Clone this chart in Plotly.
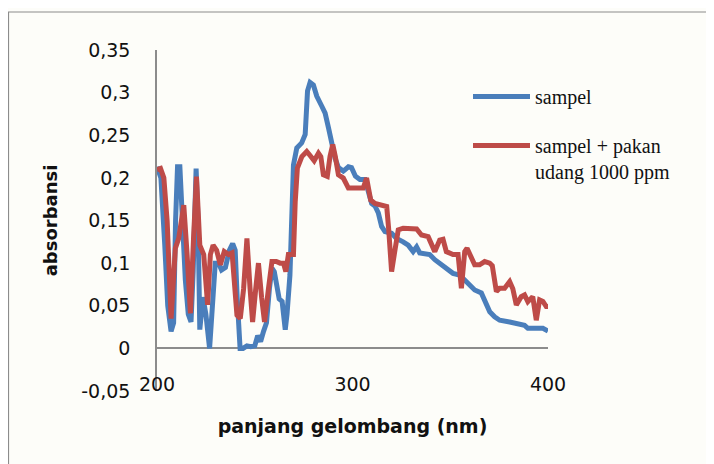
import plotly.graph_objects as go

# ---- data ----
sampel_nm = [200, 202, 204, 205.5, 207.2, 208.5, 209.5, 210.5, 211.7, 213, 214.5, 216, 217.4, 218.5,
             220, 221, 221.9, 223.5, 225, 226.9, 228.5, 229.8, 231.5, 233, 235, 237, 238.7, 240, 241,
             242.5, 244, 246, 248, 250, 251.5, 253, 254.5, 256, 257.5, 258.8, 260, 261.5, 262.5, 264,
             265.6, 266.5, 268, 269.8, 271.5, 274, 275.8, 277, 278.3, 280, 281.7, 284.3, 286, 287.7,
             289.4, 291.1, 292.8, 295.3, 297.9, 299.5, 301.5, 303.8, 306.4, 308, 309.8, 311.5, 313.2,
             314.9, 316.6, 320, 322.5, 325.9, 328.5, 331, 332.8, 334.4, 337, 339.5, 342.1, 344.6, 348,
             351.4, 354.8, 357.4, 360, 362.5, 365.9, 368.5, 370.2, 372.7, 375.3, 380.4, 385.5, 388,
             389.7, 394, 397.4, 400]
sampel_abs = [0.213, 0.200, 0.120, 0.050, 0.020, 0.030, 0.150, 0.213, 0.213, 0.150, 0.080, 0.040, 0.031, 0.090,
              0.211, 0.150, 0.022, 0.060, 0.040, 0.000, 0.050, 0.100, 0.100, 0.092, 0.095, 0.115, 0.123, 0.115, 0.060,
              0.000, 0.000, 0.003, 0.002, 0.003, 0.015, 0.008, 0.020, 0.030, 0.070, 0.094, 0.090, 0.070, 0.058, 0.055,
              0.022, 0.040, 0.086, 0.215, 0.235, 0.241, 0.251, 0.302, 0.312, 0.309, 0.296, 0.284, 0.276, 0.259,
              0.239, 0.223, 0.212, 0.208, 0.213, 0.212, 0.202, 0.198, 0.198, 0.182, 0.170, 0.167, 0.159,
              0.143, 0.137, 0.135, 0.129, 0.125, 0.121, 0.1135, 0.119, 0.112, 0.111, 0.110, 0.104, 0.100, 0.094,
              0.088, 0.086, 0.080, 0.074, 0.0685, 0.065, 0.053, 0.043, 0.037, 0.033, 0.031, 0.029, 0.027,
              0.0235, 0.0235, 0.0235, 0.0203]

pakan_nm = [200, 201.8, 203.5, 205.2, 207.2, 209.4, 211.1, 213.7, 215.4, 217.1, 218.7, 220.2, 221.9, 223.9,
            225.9, 227.3, 228.7, 230.5, 232.4, 234.4, 236.6, 238.4, 240.9, 242.6, 244.3, 246, 247.6, 248.9,
            250.5, 251.9, 253.5, 255, 257, 258.8, 261, 263, 264.7, 265.9, 267.2, 269.8, 270.7, 271.8, 274.1,
            276.6, 278.4, 280.4, 282.6, 283.8, 285.1, 287.1, 288.5, 289.9, 291.2, 292.8, 295.3, 297.9, 301,
            305.5, 307.2, 309.3, 311.5, 314, 317.5, 318.5, 320, 321.7, 323.4, 325.9, 329.3, 332.8, 335.3,
            338.7, 342.1, 344.6, 346.3, 348, 351.4, 354, 355.7, 357.4, 358.6, 360.8, 362.5, 365, 367.6,
            370.2, 371.5, 373.6, 375.3, 377.8, 380.4, 382, 383.8, 386.3, 388, 389.7, 392.2, 394, 395.7,
            397.4, 399.1, 400]
pakan_abs = [0.2095, 0.211, 0.200, 0.149, 0.035, 0.1175, 0.129, 0.168, 0.110, 0.041, 0.130, 0.2016, 0.121, 0.110,
             0.051, 0.110, 0.121, 0.115, 0.098, 0.1135, 0.110, 0.112, 0.039, 0.035, 0.070, 0.129, 0.070, 0.031,
             0.070, 0.100, 0.060, 0.031, 0.070, 0.102, 0.102, 0.100, 0.100, 0.090, 0.110, 0.110, 0.172, 0.2115, 0.225,
             0.231, 0.226, 0.220, 0.229, 0.225, 0.2036, 0.2016, 0.225, 0.239, 0.225, 0.2036, 0.1998, 0.188, 0.188,
             0.188, 0.1998, 0.174, 0.170, 0.169, 0.1664, 0.140, 0.090, 0.115, 0.139, 0.141, 0.141, 0.140, 0.133,
             0.131, 0.1135, 0.127, 0.128, 0.1135, 0.110, 0.110, 0.0705, 0.1135, 0.1175, 0.1058, 0.098, 0.098, 0.1018,
             0.100, 0.097, 0.0666, 0.0705, 0.0705, 0.0783, 0.070, 0.051, 0.0607, 0.0627, 0.0548, 0.0607, 0.033, 0.0568,
             0.055, 0.049, 0.049]

y_tickvals = [-0.05, 0, 0.05, 0.1, 0.15, 0.2, 0.25, 0.3, 0.35]
y_ticktext = ["-0,05", "0", "0,05", "0,1", "0,15", "0,2", "0,25", "0,3", "0,35"]
x_tickvals = [200, 300, 400]
x_ticktext = ["200", "300", "400"]

series_names = ["sampel", "sampel + pakan<br>udang 1000 ppm"]
series_colors = ["#4A7EBB", "#BE4B48"]

# ---- layout geometry (pixels) ----
OFF = 8  # default page body margin
W, H = 714 - OFF, 464 - OFF
ML, MR, MT, MB = 157 - OFF, 166, 50 - OFF, 73
PW, PH = W - ML - MR, H - MT - MB


def px_to_paper_x(px):  # px in page coordinates
    return (px - OFF - ML) / PW


def px_to_paper_y(py):
    return 1 - (py - OFF - MT) / PH


fig = go.Figure()
for i, (xs, ys) in enumerate([(sampel_nm, sampel_abs), (pakan_nm, pakan_abs)]):
    fig.add_trace(go.Scatter(
        x=xs, y=ys, mode="lines", name=series_names[i],
        legendgroup="g%d" % i,
        line=dict(color=series_colors[i], width=5),
    ))

fig.update_layout(
    width=W, height=H,
    margin=dict(l=ML, r=MR, t=MT, b=MB, autoexpand=False),
    paper_bgcolor="#FDFDF9",
    plot_bgcolor="rgba(0,0,0,0)",
    showlegend=True,
    legend=dict(
        x=px_to_paper_x(468), y=px_to_paper_y(77), xanchor="left", yanchor="top",
        bgcolor="rgba(0,0,0,0)", borderwidth=0,
        font=dict(family="Liberation Serif", size=20, color="#111111"),
        itemwidth=57, valign="top", tracegroupgap=20,
        traceorder="grouped",
    ),
    xaxis=dict(
        range=[200, 400], tickvals=x_tickvals, ticktext=x_ticktext,
        showgrid=False, zeroline=False, showline=False, ticks="",
        ticklabelposition="inside", ticklabeloverflow="allow",
        ticklabelstandoff=-7,
        tickfont=dict(family="DejaVu Sans", size=19, color="#111111"),
        title=dict(text="<b>panjang gelombang (nm)</b>", standoff=25,
                   font=dict(family="DejaVu Sans", size=19, color="#111111")),
    ),
    yaxis=dict(
        range=[-0.05, 0.35], tickvals=y_tickvals, ticktext=y_ticktext,
        showgrid=False, zeroline=True, zerolinecolor="#8C8C8C", zerolinewidth=1.5,
        showline=True, linecolor="#8C8C8C", linewidth=1.5, ticks="",
        ticklabelstandoff=21,
        tickfont=dict(family="DejaVu Sans", size=19, color="#111111"),
        title=dict(text="<b>absorbansi</b>", standoff=19,
                   font=dict(family="DejaVu Sans", size=18, color="#111111")),
    ),
    shapes=[dict(
        type="rect", xref="paper", yref="paper",
        x0=px_to_paper_x(8.5), x1=px_to_paper_x(714 + 20),
        y0=px_to_paper_y(464 + 20), y1=px_to_paper_y(12),
        line=dict(color="#8C8C8C", width=1.2), fillcolor="rgba(0,0,0,0)",
        layer="below",
    )],
)

fig.write_html("out.html")
